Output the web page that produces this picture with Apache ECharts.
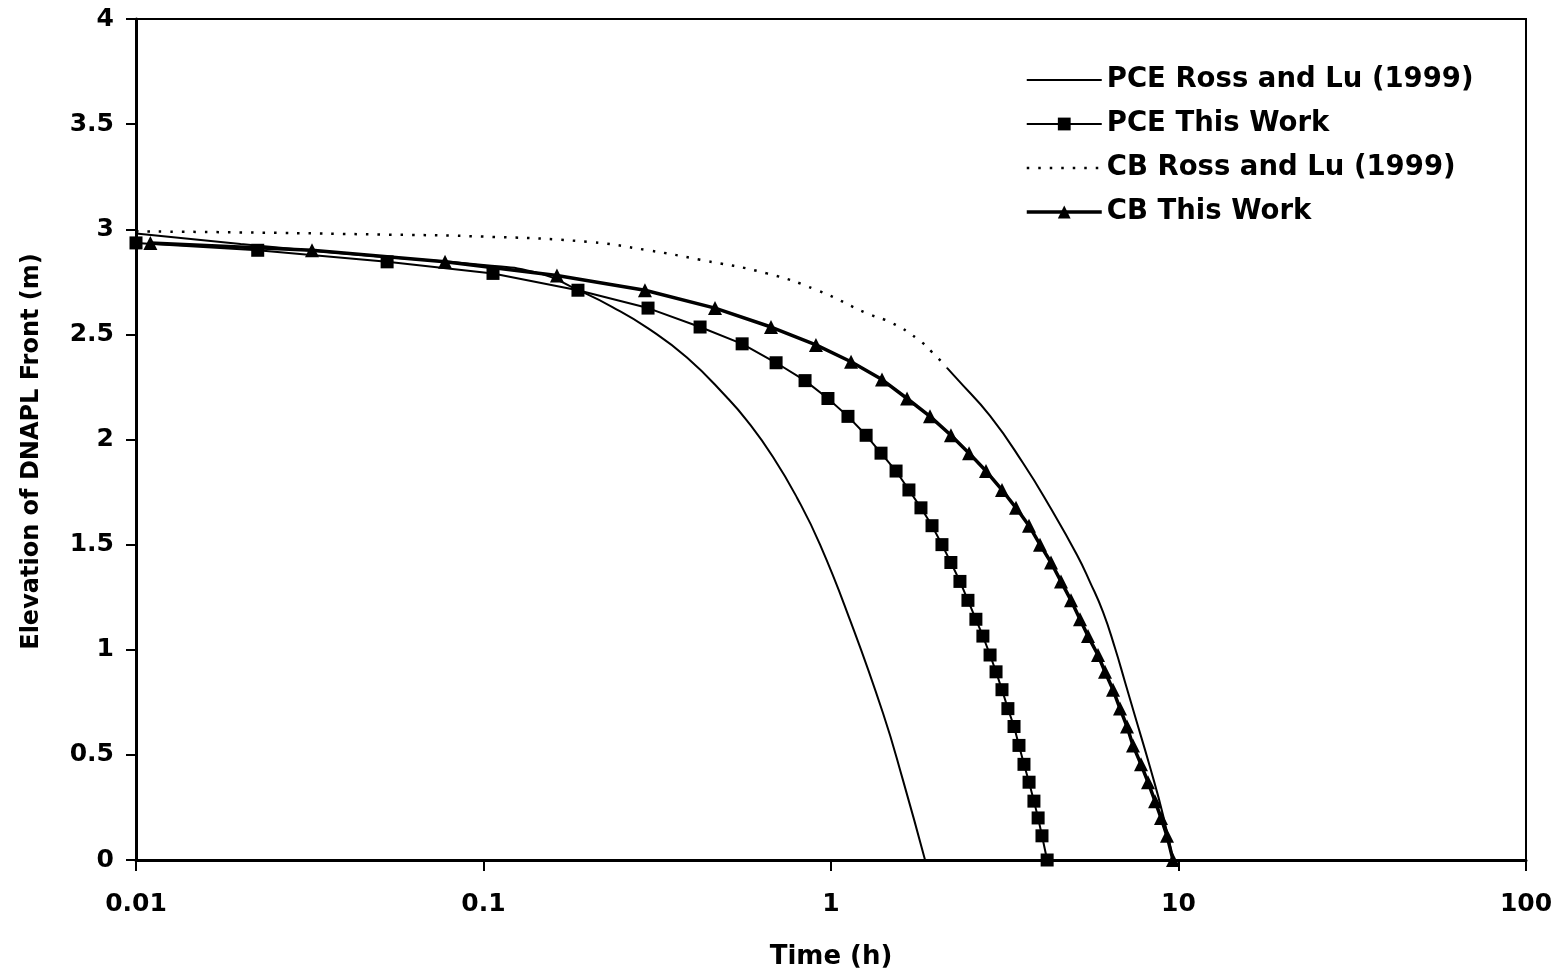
<!DOCTYPE html>
<html>
<head>
<meta charset="utf-8">
<title>Elevation of DNAPL Front</title>
<script src="https://cdn.jsdelivr.net/npm/echarts@6/dist/echarts.min.js"></script>
<style>
  html, body { margin: 0; padding: 0; background: #fff; }
  #chart { width: 1560px; height: 977px; }
</style>
</head>
<body>
<div id="chart"></div>
<script>
// Time (h) and elevation (m) of the DNAPL front for each curve.
const pceRossTime = [0.01, 0.02, 0.05, 0.1, 0.145, 0.187, 0.235, 0.297, 0.385, 0.502, 0.573, 0.681, 0.799, 0.930, 1.134, 1.411, 1.611, 1.865];
const pceRossElev = [2.98, 2.93, 2.87, 2.83, 2.79, 2.711, 2.63, 2.53, 2.39, 2.20, 2.09, 1.917, 1.722, 1.50, 1.142, 0.699, 0.38, 0];

const pceWorkTime = [0.01, 0.0224, 0.0528, 0.1065, 0.187, 0.2975, 0.420, 0.555, 0.695, 0.842, 0.980, 1.119, 1.262, 1.393, 1.539, 1.676, 1.815, 1.953, 2.086, 2.213, 2.350, 2.478, 2.612, 2.736, 2.869, 2.985, 3.105, 3.229, 3.363, 3.475, 3.592, 3.715, 3.837, 3.945, 4.047, 4.188];
const pceWorkElev = [2.935, 2.90, 2.845, 2.79, 2.71, 2.625, 2.535, 2.455, 2.365, 2.28, 2.195, 2.11, 2.02, 1.935, 1.85, 1.76, 1.675, 1.59, 1.50, 1.415, 1.325, 1.235, 1.145, 1.065, 0.975, 0.895, 0.81, 0.72, 0.635, 0.545, 0.455, 0.37, 0.28, 0.20, 0.115, 0];

// CB analytical curve: flat early part (dotted) and steep late part (solid)
const cbRossTimeEarly = [0.01, 0.02, 0.05, 0.1, 0.2, 0.2974, 0.420, 0.654, 0.912, 1.270, 1.498, 1.768, 1.953, 2.157];
const cbRossElevEarly = [2.99, 2.985, 2.975, 2.965, 2.94, 2.90, 2.855, 2.79, 2.71, 2.60, 2.554, 2.48, 2.416, 2.341];
const cbRossTimeLate = [2.157, 2.305, 2.869, 3.569, 4.268, 5.105, 5.563, 6.063, 6.565, 7.015, 7.495, 8.279, 9.025, 9.643];
const cbRossElevLate = [2.341, 2.288, 2.112, 1.888, 1.679, 1.451, 1.322, 1.180, 1.008, 0.847, 0.685, 0.442, 0.214, 0];

const cbWorkTime = [0.011, 0.0321, 0.0775, 0.1627, 0.2915, 0.4637, 0.672, 0.905, 1.142, 1.402, 1.655, 1.927, 2.214, 2.496, 2.793, 3.105, 3.407, 3.714, 3.995, 4.297, 4.590, 4.905, 5.206, 5.490, 5.866, 6.145, 6.479, 6.787, 7.110, 7.396, 7.80, 8.17, 8.56, 8.906, 9.267, 9.643];
const cbWorkElev = [2.935, 2.90, 2.845, 2.78, 2.71, 2.625, 2.535, 2.45, 2.37, 2.285, 2.195, 2.11, 2.02, 1.935, 1.85, 1.76, 1.675, 1.59, 1.50, 1.415, 1.325, 1.235, 1.145, 1.065, 0.975, 0.895, 0.81, 0.72, 0.635, 0.545, 0.455, 0.37, 0.28, 0.20, 0.115, 0];

const seriesNames = ['PCE Ross and Lu (1999)', 'PCE This Work', 'CB Ross and Lu (1999)', 'CB This Work'];

function pairs(xs, ys) {
  return xs.map((x, i) => [x, ys[i]]);
}

const FONT = 'DejaVu Sans';
const thinLine = { color: '#000', width: 2 };
const dottedLine = { color: '#000', width: 2.5, type: [2.5, 9] };
const thickLine = { color: '#000', width: 3.5 };

const chart = echarts.init(document.getElementById('chart'), null, { renderer: 'canvas' });

chart.setOption({
  animation: false,
  backgroundColor: '#ffffff',
  grid: {
    left: 136, top: 19, right: 34, bottom: 117,
    show: true, borderColor: '#000', borderWidth: 2, backgroundColor: 'transparent'
  },
  legend: {
    // analytical curves have no markers, so their legend keys show the line only
    data: [
      { name: seriesNames[0], itemStyle: { opacity: 0 }, lineStyle: thinLine },
      { name: seriesNames[1], lineStyle: thinLine },
      { name: seriesNames[2], itemStyle: { opacity: 0 }, lineStyle: dottedLine },
      { name: seriesNames[3], lineStyle: thickLine }
    ],
    orient: 'vertical',
    left: 1020, top: 61,
    itemWidth: 75, itemHeight: 16, itemGap: 16,
    textStyle: { fontFamily: FONT, fontWeight: 'bold', fontSize: 27.5, color: '#000' }
  },
  xAxis: {
    type: 'log', logBase: 10, min: 0.01, max: 100,
    name: 'Time (h)', nameLocation: 'middle', nameGap: 84,
    nameTextStyle: { fontFamily: FONT, fontWeight: 'bold', fontSize: 26, color: '#000' },
    axisLine: { show: true, onZero: false, lineStyle: { color: '#000', width: 3 } },
    axisTick: { show: true, inside: false, length: 11, lineStyle: { color: '#000', width: 2 } },
    minorTick: { show: false },
    splitLine: { show: false },
    axisLabel: {
      margin: 32, fontFamily: FONT, fontWeight: 'bold', fontSize: 25, color: '#000',
      formatter: v => String(+Number(v).toPrecision(6))
    }
  },
  yAxis: {
    type: 'value', min: 0, max: 4, interval: 0.5,
    name: 'Elevation of DNAPL Front (m)', nameLocation: 'middle', nameGap: 92, nameRotate: 90,
    nameTextStyle: { fontFamily: FONT, fontWeight: 'bold', fontSize: 24, color: '#000', padding: [0, 24, 0, 0] },
    axisLine: { show: true, lineStyle: { color: '#000', width: 3 } },
    axisTick: { show: true, inside: false, length: 10, lineStyle: { color: '#000', width: 2 } },
    splitLine: { show: false },
    axisLabel: { margin: 22, fontFamily: FONT, fontWeight: 'bold', fontSize: 25, color: '#000' }
  },
  series: [
    {
      name: seriesNames[0], type: 'line', data: pairs(pceRossTime, pceRossElev),
      showSymbol: false, symbol: 'none', smooth: 0.5,
      lineStyle: thinLine, itemStyle: { color: '#000' }, z: 2
    },
    {
      name: seriesNames[1], type: 'line', data: pairs(pceWorkTime, pceWorkElev),
      symbol: 'rect', symbolSize: 13,
      lineStyle: thinLine, itemStyle: { color: '#000' }, z: 3
    },
    {
      name: seriesNames[2], type: 'line', data: pairs(cbRossTimeEarly, cbRossElevEarly),
      showSymbol: false, symbol: 'none', smooth: 0.5,
      lineStyle: dottedLine, itemStyle: { color: '#000' }, z: 2
    },
    {
      name: seriesNames[2], type: 'line', data: pairs(cbRossTimeLate, cbRossElevLate),
      showSymbol: false, symbol: 'none', smooth: 0.5,
      lineStyle: thinLine, itemStyle: { color: '#000' }, z: 2
    },
    {
      name: seriesNames[3], type: 'line', data: pairs(cbWorkTime, cbWorkElev),
      symbol: 'triangle', symbolSize: 14,
      lineStyle: thickLine, itemStyle: { color: '#000' }, z: 4
    }
  ]
});
</script>
</body>
</html>
